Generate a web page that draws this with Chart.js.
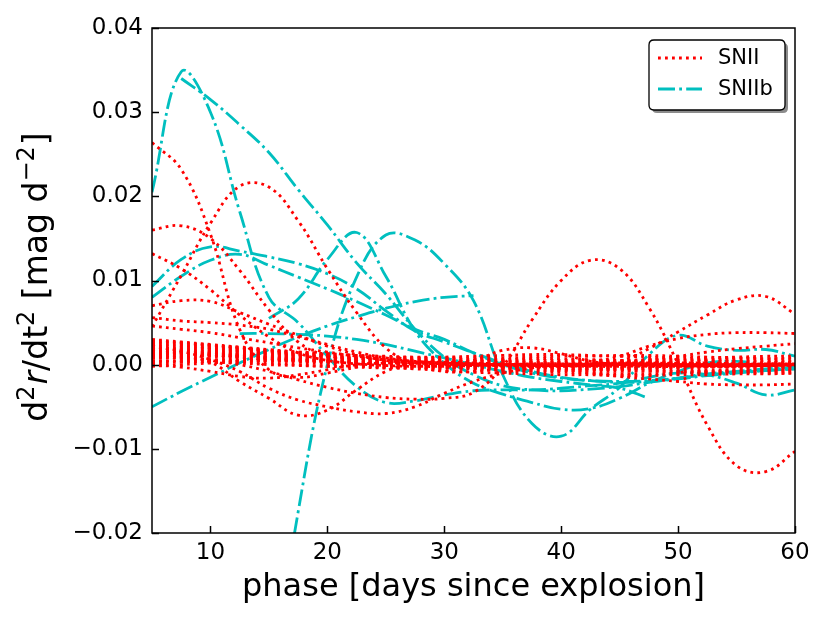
<!DOCTYPE html>
<html>
<head>
<meta charset="utf-8">
<script src="https://cdn.jsdelivr.net/npm/chart.js@4.4.1/dist/chart.umd.min.js"></script>
<style>
  html, body { margin: 0; padding: 0; background: #fff; }
  #wrap { width: 830px; height: 623px; }
</style>
</head>
<body>
<div id="wrap"><canvas id="chart" width="830" height="623"></canvas></div>
<script>
const FONT = "'DejaVu Sans', 'Liberation Sans', sans-serif";
const RED = '#ff0000';
const CYAN = '#00bfbf';

// phase grid (days since explosion)
const phase = [5, 7.5, 10, 12.5, 15, 17.5, 20, 22.5, 25, 27.5, 30, 32.5, 35, 37.5, 40, 42.5, 45, 47.5, 50, 52.5, 55, 57.5, 60];

const xTicks = [10, 20, 30, 40, 50, 60];
const yTicks = [-0.02, -0.01, 0, 0.01, 0.02, 0.03, 0.04];
const yTickLabels = ['\u22120.02', '\u22120.01', '0.00', '0.01', '0.02', '0.03', '0.04'];
const legendLabels = ['SNII', 'SNIIb'];

// SNII curves
const snII_01 = [0.0264, 0.0232, 0.0155, 0.0042, -0.0006, -0.0015, -0.0010, -0.0003, 0.0002, 0.0003, 0.0002, 0.0001, 0.0000, 0.0000, 0.0000, 0.0001, 0.0002, 0.0002, 0.0002, 0.0001, 0.0000, 0.0000, 0.0000];
const snII_02 = [0.0045, 0.0106, 0.0168, 0.0212, 0.0211, 0.0171, 0.0114, 0.0062, 0.0020, 0.0000, -0.0008, -0.0008, -0.0005, -0.0002, 0.0000, 0.0000, 0.0000, 0.0001, 0.0001, 0.0001, 0.0000, 0.0000, 0.0000];
const snII_03 = [0.0160, 0.0165, 0.0150, 0.0112, 0.0065, 0.0027, 0.0010, 0.0004, 0.0001, 0.0000, -0.0001, -0.0001, 0.0000, 0.0001, 0.0001, 0.0000, -0.0001, -0.0001, 0.0000, 0.0001, 0.0001, 0.0000, 0.0000];
const snII_04 = [0.0132, 0.0114, 0.0089, 0.0059, 0.0033, 0.0014, 0.0005, 0.0001, -0.0001, -0.0002, -0.0002, -0.0001, 0.0000, 0.0000, -0.0001, -0.0002, -0.0002, -0.0001, 0.0000, 0.0000, -0.0001, -0.0001, 0.0000];
const snII_05 = [0.0012, 0.0010, 0.0003, -0.0020, -0.0040, -0.0060, -0.0054, -0.0030, -0.0008, 0.0002, 0.0003, 0.0002, 0.0001, 0.0000, -0.0001, -0.0001, 0.0000, 0.0001, 0.0002, 0.0002, 0.0001, 0.0000, -0.0001];
const snII_06 = [0.0022, 0.0016, 0.0006, -0.0008, -0.0028, -0.0042, -0.0050, -0.0056, -0.0058, -0.0050, -0.0034, -0.0020, -0.0010, -0.0004, 0.0000, 0.0001, 0.0001, 0.0000, -0.0001, -0.0002, -0.0002, -0.0001, 0.0000];
const snII_07 = [0.0010, 0.0008, 0.0005, 0.0000, -0.0008, -0.0018, -0.0027, -0.0034, -0.0039, -0.0041, -0.0040, -0.0033, -0.0002, 0.0053, 0.0100, 0.0124, 0.0114, 0.0068, 0.0001, -0.0072, -0.0120, -0.0127, -0.0103];
const snII_08 = [0.0018, 0.0015, 0.0012, 0.0009, 0.0007, 0.0005, 0.0004, 0.0003, 0.0002, 0.0001, 0.0000, 0.0000, 0.0000, 0.0000, 0.0000, 0.0001, 0.0004, 0.0019, 0.0039, 0.0059, 0.0077, 0.0081, 0.0060];
const snII_09 = [0.0020, 0.0018, 0.0015, 0.0012, 0.0010, 0.0008, 0.0006, 0.0005, 0.0004, 0.0003, 0.0002, 0.0001, 0.0000, -0.0001, -0.0001, 0.0003, 0.0010, 0.0022, 0.0031, 0.0036, 0.0038, 0.0038, 0.0037];
const snII_10 = [0.0013, 0.0012, 0.0010, 0.0008, 0.0006, 0.0004, 0.0003, 0.0002, 0.0001, 0.0000, 0.0000, -0.0001, -0.0001, -0.0001, 0.0000, 0.0001, 0.0002, 0.0006, 0.0010, 0.0015, 0.0019, 0.0022, 0.0025];
const snII_11 = [0.0016, 0.0014, 0.0012, 0.0010, 0.0008, 0.0006, 0.0004, 0.0002, 0.0001, 0.0000, 0.0000, 0.0005, 0.0017, 0.0020, 0.0013, 0.0004, 0.0000, -0.0002, -0.0002, -0.0001, 0.0000, 0.0000, 0.0000];
const snII_12 = [0.0005, 0.0004, 0.0003, 0.0002, 0.0000, -0.0001, -0.0002, -0.0002, -0.0003, -0.0003, -0.0003, -0.0003, -0.0003, -0.0004, -0.0005, -0.0010, -0.0014, -0.0017, -0.0020, -0.0023, -0.0024, -0.0024, -0.0023];
const snII_13 = [0.0070, 0.0076, 0.0075, 0.0062, 0.0048, 0.0035, 0.0022, 0.0012, 0.0005, 0.0002, 0.0001, 0.0000, 0.0000, 0.0001, 0.0001, 0.0000, 0.0000, -0.0001, -0.0001, 0.0000, 0.0000, 0.0001, 0.0001];
const snII_14 = [0.0056, 0.0052, 0.0050, 0.0047, 0.0042, 0.0033, 0.0024, 0.0015, 0.0008, 0.0004, 0.0002, 0.0001, 0.0000, -0.0001, -0.0001, 0.0000, 0.0001, 0.0001, 0.0000, -0.0001, -0.0001, 0.0000, 0.0000];
const snII_15 = [0.0046, 0.0042, 0.0038, 0.0032, 0.0026, 0.0020, 0.0015, 0.0010, 0.0006, 0.0003, 0.0001, 0.0000, -0.0001, -0.0001, 0.0000, 0.0001, 0.0002, 0.0002, 0.0001, 0.0000, -0.0001, -0.0001, 0.0000];
const snII_16 = [0.0000, -0.0003, -0.0008, -0.0014, -0.0016, -0.0012, -0.0006, 0.0000, 0.0002, 0.0002, 0.0001, 0.0000, -0.0001, -0.0002, -0.0002, -0.0001, 0.0000, 0.0000, -0.0001, -0.0002, -0.0002, -0.0001, 0.0000];
// the crowded band near zero
const snII_17 = [0.0024, 0.0023, 0.0021, 0.0019, 0.0017, 0.0015, 0.0013, 0.0011, 0.0009, 0.0008, 0.0007, 0.0006, 0.0005, 0.0005, 0.0005, 0.0005, 0.0005, 0.0006, 0.0006, 0.0006, 0.0007, 0.0007, 0.0008];
const snII_18 = [0.0020, 0.0019, 0.0018, 0.0016, 0.0014, 0.0012, 0.0010, 0.0008, 0.0006, 0.0004, 0.0003, 0.0002, 0.0001, 0.0001, 0.0000, 0.0000, 0.0000, 0.0001, 0.0001, 0.0001, 0.0001, 0.0000, 0.0000];
const snII_19 = [0.0016, 0.0016, 0.0015, 0.0014, 0.0012, 0.0010, 0.0008, 0.0006, 0.0004, 0.0003, 0.0002, 0.0001, 0.0000, -0.0001, -0.0001, -0.0001, -0.0002, -0.0002, -0.0002, -0.0002, -0.0003, -0.0003, -0.0003];
const snII_20 = [0.0012, 0.0013, 0.0013, 0.0012, 0.0011, 0.0009, 0.0007, 0.0005, 0.0003, 0.0001, 0.0000, -0.0001, -0.0002, -0.0003, -0.0003, -0.0004, -0.0004, -0.0005, -0.0005, -0.0006, -0.0006, -0.0006, -0.0007];
const snII_21 = [0.0008, 0.0009, 0.0010, 0.0010, 0.0009, 0.0008, 0.0006, 0.0004, 0.0002, 0.0000, -0.0002, -0.0003, -0.0004, -0.0005, -0.0006, -0.0007, -0.0008, -0.0008, -0.0008, -0.0008, -0.0007, -0.0007, -0.0006];
const snII_22 = [0.0028, 0.0026, 0.0023, 0.0020, 0.0017, 0.0014, 0.0012, 0.0010, 0.0009, 0.0008, 0.0008, 0.0008, 0.0008, 0.0009, 0.0010, 0.0010, 0.0011, 0.0011, 0.0010, 0.0009, 0.0008, 0.0007, 0.0006];
const snII_23 = [0.0018, 0.0017, 0.0016, 0.0015, 0.0013, 0.0011, 0.0009, 0.0007, 0.0006, 0.0005, 0.0004, 0.0004, 0.0003, 0.0003, 0.0002, 0.0002, 0.0002, 0.0003, 0.0003, 0.0004, 0.0004, 0.0004, 0.0004];
const snII_24 = [0.0014, 0.0014, 0.0013, 0.0011, 0.0009, 0.0007, 0.0005, 0.0004, 0.0002, 0.0001, -0.0001, -0.0002, -0.0003, -0.0003, -0.0004, -0.0005, -0.0005, -0.0004, -0.0003, -0.0002, -0.0001, 0.0000, 0.0001];
const snII_25 = [0.0010, 0.0011, 0.0011, 0.0010, 0.0008, 0.0006, 0.0004, 0.0002, 0.0000, -0.0002, -0.0004, -0.0005, -0.0007, -0.0008, -0.0009, -0.0010, -0.0011, -0.0011, -0.0010, -0.0009, -0.0008, -0.0008, -0.0007];
const snII_26 = [0.0002, 0.0003, 0.0004, 0.0005, 0.0005, 0.0005, 0.0004, 0.0003, 0.0002, 0.0001, 0.0000, -0.0001, -0.0002, -0.0003, -0.0004, -0.0005, -0.0006, -0.0007, -0.0008, -0.0009, -0.0009, -0.0010, -0.0010];
const snII_27 = [0.0022, 0.0022, 0.0020, 0.0018, 0.0015, 0.0012, 0.0010, 0.0008, 0.0007, 0.0006, 0.0005, 0.0004, 0.0004, 0.0003, 0.0003, 0.0004, 0.0004, 0.0005, 0.0005, 0.0005, 0.0004, 0.0003, 0.0002];
const snII_28 = [0.0015, 0.0014, 0.0012, 0.0010, 0.0008, 0.0006, 0.0005, 0.0003, 0.0002, 0.0001, 0.0000, 0.0000, 0.0000, 0.0001, 0.0002, 0.0002, 0.0003, 0.0003, 0.0002, 0.0001, 0.0000, -0.0001, -0.0002];
const snII_29 = [-0.0002, 0.0000, 0.0002, 0.0004, 0.0005, 0.0005, 0.0004, 0.0003, 0.0001, -0.0001, -0.0003, -0.0005, -0.0006, -0.0007, -0.0007, -0.0006, -0.0005, -0.0004, -0.0003, -0.0003, -0.0002, -0.0002, -0.0001];
const snII_30 = [0.0026, 0.0025, 0.0023, 0.0020, 0.0016, 0.0013, 0.0010, 0.0008, 0.0006, 0.0005, 0.0005, 0.0005, 0.0006, 0.0007, 0.0007, 0.0006, 0.0005, 0.0003, 0.0002, 0.0001, 0.0001, 0.0002, 0.0003];
const snII_31 = [0.0030, 0.0027, 0.0024, 0.0021, 0.0018, 0.0015, 0.0013, 0.0011, 0.0010, 0.0009, 0.0009, 0.0010, 0.0011, 0.0012, 0.0012, 0.0011, 0.0010, 0.0009, 0.0008, 0.0008, 0.0009, 0.0010, 0.0010];
const snII_32 = [0.0004, 0.0005, 0.0006, 0.0006, 0.0005, 0.0003, 0.0001, -0.0001, -0.0003, -0.0005, -0.0007, -0.0009, -0.0010, -0.0011, -0.0012, -0.0012, -0.0013, -0.0013, -0.0012, -0.0012, -0.0011, -0.0011, -0.0010];
const snII_33 = [0.0019, 0.0020, 0.0019, 0.0017, 0.0014, 0.0011, 0.0009, 0.0007, 0.0005, 0.0004, 0.0002, 0.0001, -0.0001, -0.0002, -0.0002, -0.0003, -0.0003, -0.0002, -0.0001, 0.0000, 0.0001, 0.0001, 0.0002];
const snII_34 = [0.0009, 0.0008, 0.0006, 0.0004, 0.0002, 0.0000, -0.0002, -0.0003, -0.0004, -0.0004, -0.0004, -0.0003, -0.0002, -0.0001, 0.0000, 0.0001, 0.0001, 0.0000, -0.0001, -0.0002, -0.0003, -0.0004, -0.0004];

// SNIIb curves
const snIIb_a = [0.0205, 0.0348, 0.0300, 0.0182, 0.0080, 0.0050, 0.0010, -0.0026, -0.0045, -0.0043, -0.0036, -0.0031, -0.0030, -0.0030, -0.0028, -0.0025, -0.0022, -0.0015, -0.0010, -0.0012, -0.0022, -0.0036, -0.0030];
const snIIb_b = [null, 0.0340, 0.0315, 0.0285, 0.0252, 0.0208, 0.0166, 0.0121, 0.0084, 0.0042, 0.0009, -0.0012, -0.0025, -0.0030, -0.0031, -0.0029, -0.0026, -0.0021, -0.0016, -0.0011, -0.0008, -0.0005, -0.0003];
const snIIb_c = [0.0093, 0.0125, 0.0140, 0.0135, 0.0128, 0.0120, 0.0108, 0.0090, 0.0064, 0.0040, 0.0027, 0.0014, 0.0002, -0.0008, -0.0015, -0.0019, -0.0021, -0.0020, -0.0017, -0.0013, -0.0010, -0.0007, -0.0005];
const snIIb_d = [0.0080, 0.0105, 0.0124, 0.0131, 0.0118, 0.0104, 0.0090, 0.0075, 0.0059, 0.0042, 0.0030, 0.0014, 0.0000, -0.0010, -0.0016, -0.0019, -0.0020, -0.0019, -0.0016, -0.0012, -0.0009, -0.0007, -0.0005];
const snIIb_e = [-0.0050, -0.0032, -0.0015, 0.0002, 0.0018, 0.0033, 0.0046, 0.0057, 0.0067, 0.0075, 0.0080, 0.0082, null, null, null, null, null, null, null, null, null, null, null];
const snIIb_f = [null, null, null, 0.0037, 0.0037, 0.0036, 0.0034, 0.0030, 0.0024, 0.0016, 0.0008, 0.0000, -0.0008, -0.0015, -0.0020, -0.0024, -0.0028, -0.0040, null, null, null, null, null];
const snIIb_g = [null, null, null, null, -0.0400, -0.0175, 0.0000, 0.0104, 0.0154, 0.0148, 0.0120, 0.0076, -0.0012, -0.0070, -0.0085, -0.0053, -0.0027, 0.0012, 0.0035, 0.0022, 0.0017, 0.0018, 0.0010];
const snIIb_h = [null, null, null, null, 0.0055, 0.0078, 0.0125, 0.0157, 0.0105, 0.0040, 0.0002, -0.0022, -0.0035, -0.0045, -0.0053, -0.0052, -0.0040, -0.0022, -0.0008, 0.0002, 0.0004, 0.0000, -0.0004];

const snIICurves = [snII_01, snII_02, snII_03, snII_04, snII_05, snII_06, snII_07, snII_08, snII_09, snII_10,
  snII_11, snII_12, snII_13, snII_14, snII_15, snII_16, snII_17, snII_18, snII_19, snII_20,
  snII_21, snII_22, snII_23, snII_24, snII_25, snII_26, snII_27, snII_28, snII_29, snII_30,
  snII_31, snII_32, snII_33, snII_34];
const snIIbCurves = [snIIb_a, snIIb_b, snIIb_c, snIIb_d, snIIb_e, snIIb_f, snIIb_g, snIIb_h];

const LINE_W = 2.8;
const RED_DASH = [2.8, 4.2];
const CYAN_DASH = [17, 4.2, 2.8, 4.2];

function toPoints(values) {
  return phase.map((x, i) => ({ x: x, y: values[i] }));
}

function makeDataset(values, color, dash) {
  return {
    data: toPoints(values),
    borderColor: color,
    borderWidth: LINE_W,
    borderDash: dash,
    borderCapStyle: 'butt',
    fill: false,
    pointRadius: 0,
    tension: 0.4,
    spanGaps: false
  };
}

// red first so it sits on top
const datasets = [
  ...snIICurves.map(v => makeDataset(v, RED, RED_DASH)),
  ...snIIbCurves.map(v => makeDataset(v, CYAN, CYAN_DASH))
];

function roundRect(ctx, x, y, w, h, r) {
  ctx.beginPath();
  ctx.moveTo(x + r, y);
  ctx.lineTo(x + w - r, y);
  ctx.quadraticCurveTo(x + w, y, x + w, y + r);
  ctx.lineTo(x + w, y + h - r);
  ctx.quadraticCurveTo(x + w, y + h, x + w - r, y + h);
  ctx.lineTo(x + r, y + h);
  ctx.quadraticCurveTo(x, y + h, x, y + h - r);
  ctx.lineTo(x, y + r);
  ctx.quadraticCurveTo(x, y, x + r, y);
  ctx.closePath();
}

function drawYTitle(ctx, cx, cy) {
  const big = 33, small = 24, rise = 13;
  const parts = [
    { t: 'd' }, { t: '2', sup: true }, { t: 'r', it: true }, { t: '/dt' }, { t: '2', sup: true },
    { t: ' [mag d' }, { t: '\u22122', sup: true }, { t: ']' }
  ];
  const fontOf = p => (p.it ? 'italic ' : '') + (p.sup ? small : big) + 'px ' + FONT;
  let total = 0;
  parts.forEach(p => { ctx.font = fontOf(p); p.w = ctx.measureText(p.t).width + (p.sup ? 1 : 0); total += p.w; });
  ctx.save();
  ctx.translate(cx, cy);
  ctx.rotate(-Math.PI / 2);
  ctx.fillStyle = '#000';
  ctx.textBaseline = 'alphabetic';
  ctx.textAlign = 'left';
  let x = -total / 2;
  parts.forEach(p => {
    ctx.font = fontOf(p);
    ctx.fillText(p.t, x, p.sup ? -rise : 0);
    x += p.w;
  });
  ctx.restore();
}

const framePlugin = {
  id: 'frame',
  afterDraw(chart) {
    const { ctx, chartArea: a, scales: { x, y } } = chart;
    ctx.save();
    // inward ticks
    ctx.strokeStyle = '#000';
    ctx.lineWidth = 1.5;
    ctx.beginPath();
    x.ticks.forEach(t => {
      const px = Math.round(x.getPixelForValue(t.value)) + 0.5;
      ctx.moveTo(px, a.bottom);
      ctx.lineTo(px, a.bottom - 7);
    });
    y.ticks.forEach(t => {
      const py = Math.round(y.getPixelForValue(t.value)) + 0.5;
      ctx.moveTo(a.left, py);
      ctx.lineTo(a.left + 7, py);
    });
    ctx.stroke();
    ctx.strokeRect(a.left, a.top, a.right - a.left, a.bottom - a.top);

    // axis titles
    ctx.fillStyle = '#000';
    ctx.font = '32px ' + FONT;
    ctx.textAlign = 'center';
    ctx.textBaseline = 'alphabetic';
    ctx.fillText('phase [days since explosion]', (a.left + a.right) / 2, 596);
    drawYTitle(ctx, 47, 277);

    // legend
    const lx = 649, ly = 40, lw = 136, lh = 70;
    ctx.fillStyle = 'rgba(0,0,0,0.45)';
    roundRect(ctx, lx + 3, ly + 3, lw, lh, 5);
    ctx.fill();
    ctx.fillStyle = '#fff';
    roundRect(ctx, lx, ly, lw, lh, 5);
    ctx.fill();
    ctx.lineWidth = 1.3;
    ctx.strokeStyle = '#000';
    ctx.stroke();

    const rows = [
      { label: legendLabels[0], color: RED, dash: RED_DASH, yy: 58 },
      { label: legendLabels[1], color: CYAN, dash: CYAN_DASH, yy: 89 }
    ];
    rows.forEach(r => {
      ctx.beginPath();
      ctx.setLineDash(r.dash);
      ctx.lineCap = 'butt';
      ctx.strokeStyle = r.color;
      ctx.lineWidth = LINE_W;
      ctx.moveTo(658, r.yy);
      ctx.lineTo(702, r.yy);
      ctx.stroke();
      ctx.setLineDash([]);
      ctx.fillStyle = '#000';
      ctx.font = '21px ' + FONT;
      ctx.textAlign = 'left';
      ctx.textBaseline = 'middle';
      ctx.fillText(r.label, 718, r.yy + 1);
    });
    ctx.restore();
  }
};

new Chart(document.getElementById('chart'), {
  type: 'line',
  data: { datasets: datasets },
  options: {
    responsive: false,
    animation: false,
    devicePixelRatio: 1,
    layout: { padding: { left: 0, top: 28, right: 35, bottom: 0 } },
    plugins: {
      legend: { display: false },
      tooltip: { enabled: false }
    },
    scales: {
      x: {
        type: 'linear',
        min: 5,
        max: 60,
        grid: { display: false, drawTicks: false },
        border: { display: false },
        afterBuildTicks: s => { s.ticks = xTicks.map(v => ({ value: v })); },
        afterFit: s => { s.height = 90; },
        ticks: {
          color: '#000',
          font: { family: FONT, size: 23 },
          padding: 6,
          maxRotation: 0,
          autoSkip: false,
          callback: v => String(v)
        }
      },
      y: {
        type: 'linear',
        min: -0.02,
        max: 0.04,
        grid: { display: false, drawTicks: false },
        border: { display: false },
        afterBuildTicks: s => { s.ticks = yTicks.map(v => ({ value: v })); },
        afterFit: s => { s.width = 152; },
        ticks: {
          color: '#000',
          font: { family: FONT, size: 23 },
          padding: 9,
          autoSkip: false,
          callback: (v, i) => yTickLabels[i]
        }
      }
    }
  },
  plugins: [framePlugin]
});
</script>
</body>
</html>
